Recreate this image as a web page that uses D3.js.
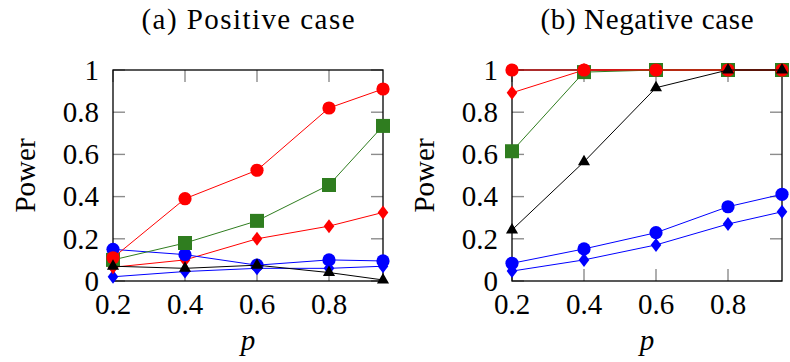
<!DOCTYPE html>
<html>
<head>
<meta charset="utf-8">
<script src="https://cdn.jsdelivr.net/npm/d3@7"></script>
<style>
  html, body { margin: 0; padding: 0; background: #fff; }
  svg { display: block; }
</style>
</head>
<body>
<svg id="chart" width="790" height="362"></svg>
<script>
// Probability values on the horizontal axis
const pValues = [0.2, 0.4, 0.6, 0.8, 0.95];
const xTicks = [0.2, 0.4, 0.6, 0.8];
const yTicks = [0, 0.2, 0.4, 0.6, 0.8, 1];
const xTickLabels = ["0.2", "0.4", "0.6", "0.8"];
const yTickLabels = ["0", "0.2", "0.4", "0.6", "0.8", "1"];

const panelTitles = ["(a) Positive case", "(b) Negative case"];

// Power per method, positive case
const posBlueDiamond = [0.02, 0.045, 0.06, 0.06, 0.07];
const posRedDiamond  = [0.065, 0.10, 0.20, 0.26, 0.325];
const posBlueCircle  = [0.15, 0.125, 0.075, 0.10, 0.095];
const posGreenSquare = [0.10, 0.18, 0.285, 0.455, 0.735];
const posRedCircle   = [0.11, 0.39, 0.525, 0.82, 0.91];
const posBlackTri    = [0.07, 0.06, 0.075, 0.04, 0.005];

// Power per method, negative case
const negBlueDiamond = [0.047, 0.10, 0.171, 0.27, 0.328];
const negRedDiamond  = [0.892, 1, 1, 1, 1];
const negBlueCircle  = [0.084, 0.152, 0.229, 0.352, 0.411];
const negGreenSquare = [0.615, 0.99, 1, 1, 1];
const negRedCircle   = [1, 1, 1, 1, 1];
const negBlackTri    = [0.242, 0.565, 0.916, 1, 1];

const green = "#2f7d1f";
const serif = "'Liberation Serif', 'Times New Roman', serif";

// series styles in drawing order (later ones on top)
const styles = [
  { color: "#0000ff", mark: "diamond" },
  { color: "#ff0000", mark: "diamond" },
  { color: "#0000ff", mark: "circle" },
  { color: green,     mark: "square" },
  { color: "#ff0000", mark: "circle" },
  { color: "#000000", mark: "triangle" }
];

const panels = [
  { left: 113, title: panelTitles[0],
    series: [posBlueDiamond, posRedDiamond, posBlueCircle, posGreenSquare, posRedCircle, posBlackTri] },
  { left: 512, title: panelTitles[1],
    series: [negBlueDiamond, negRedDiamond, negBlueCircle, negGreenSquare, negRedCircle, negBlackTri] }
];

const plotW = 270, plotTop = 70, plotBottom = 281;
const tickLen = 12;
const svg = d3.select("#chart");

function markPath(type) {
  switch (type) {
    case "circle": return d3.arc()({innerRadius: 0, outerRadius: 6.6, startAngle: 0, endAngle: 2 * Math.PI});
    case "square": return "M-7,-7H7V7H-7Z";
    case "diamond": return "M0,-7L5.3,0L0,7L-5.3,0Z";
    case "triangle": { const r = 7; return `M0,${-r}L${r*Math.sqrt(3)/2},${r/2}L${-r*Math.sqrt(3)/2},${r/2}Z`; }
  }
}

function addText(sel) {
  return sel.append("text").attr("font-family", serif).attr("font-size", 29).attr("fill", "#000");
}

panels.forEach(panel => {
  const x = d3.scaleLinear().domain([0.2, 0.95]).range([panel.left, panel.left + plotW]);
  const y = d3.scaleLinear().domain([0, 1]).range([plotBottom, plotTop]);
  const g = svg.append("g");

  // inner grey tick marks on all four sides
  const tickG = g.append("g").attr("stroke", "#8c8c8c").attr("stroke-width", 1.4);
  xTicks.forEach(t => {
    tickG.append("line").attr("x1", x(t)).attr("x2", x(t)).attr("y1", plotTop).attr("y2", plotTop + tickLen);
    tickG.append("line").attr("x1", x(t)).attr("x2", x(t)).attr("y1", plotBottom).attr("y2", plotBottom - tickLen);
  });
  yTicks.forEach(t => {
    tickG.append("line").attr("x1", panel.left).attr("x2", panel.left + tickLen).attr("y1", y(t)).attr("y2", y(t));
    tickG.append("line").attr("x1", panel.left + plotW).attr("x2", panel.left + plotW - tickLen).attr("y1", y(t)).attr("y2", y(t));
  });

  // axis frame
  g.append("rect")
    .attr("x", panel.left).attr("y", plotTop)
    .attr("width", plotW).attr("height", plotBottom - plotTop)
    .attr("fill", "none").attr("stroke", "#000").attr("stroke-width", 1.3);

  // tick labels
  xTicks.forEach((t, i) => {
    addText(g).attr("x", x(t)).attr("y", 314)
      .attr("text-anchor", "middle").text(xTickLabels[i]);
  });
  yTicks.forEach((t, i) => {
    addText(g).attr("x", panel.left - 14).attr("y", y(t)).attr("dy", "0.34em")
      .attr("text-anchor", "end").text(yTickLabels[i]);
  });

  // series: line then markers
  const line = d3.line().x((d, i) => x(pValues[i])).y(d => y(d));
  panel.series.forEach((vals, k) => {
    const st = styles[k];
    g.append("path").attr("d", line(vals))
      .attr("fill", "none").attr("stroke", st.color).attr("stroke-width", 1);
    g.selectAll(null).data(vals).enter().append("path")
      .attr("transform", (d, i) => `translate(${x(pValues[i])},${y(d)})`)
      .attr("d", markPath(st.mark))
      .attr("fill", st.color);
  });

  // titles and axis labels
  const cx = panel.left + plotW / 2;
  addText(g).attr("x", cx).attr("y", 29).attr("text-anchor", "middle")
    .attr("textLength", 213).attr("lengthAdjust", "spacing").text(panel.title);
  addText(g).attr("x", cx).attr("y", 350).attr("text-anchor", "middle")
    .attr("font-style", "italic").text("p");
  addText(g).attr("transform", `translate(${panel.left - 78},${(plotTop + plotBottom) / 2}) rotate(-90)`)
    .attr("text-anchor", "middle").text("Power");
});
</script>
</body>
</html>
